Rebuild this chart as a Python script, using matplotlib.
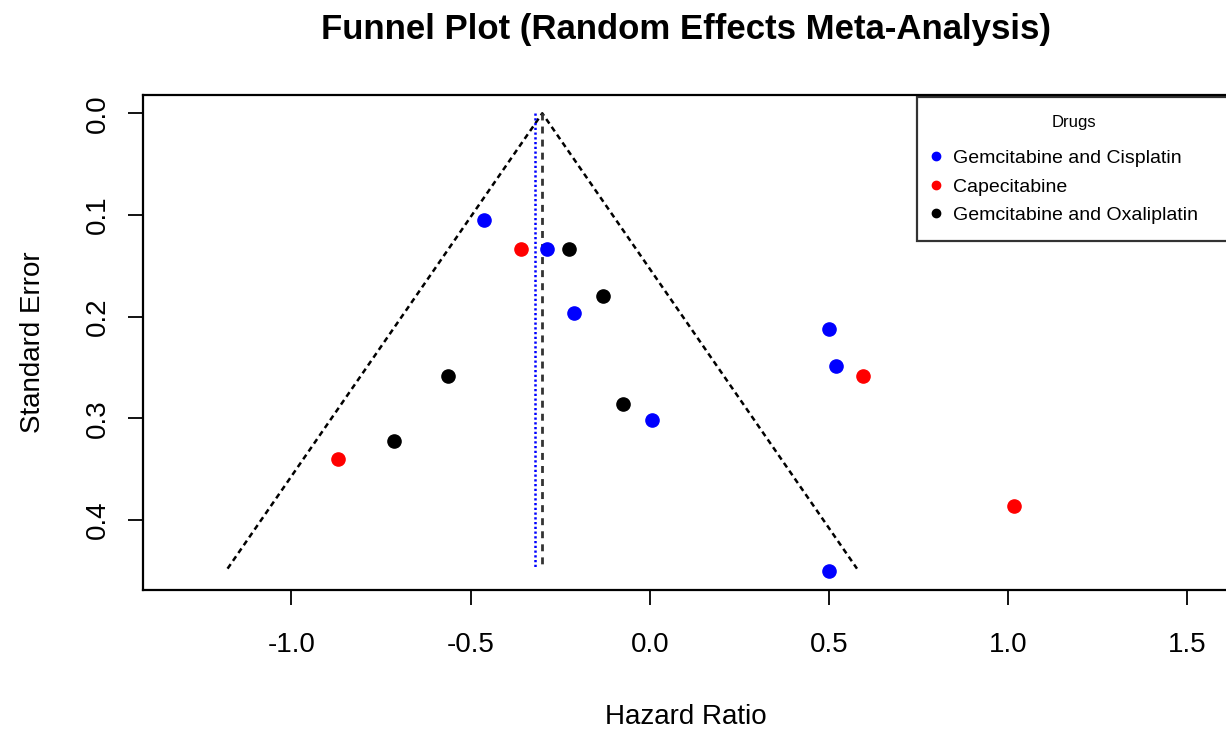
import matplotlib.pyplot as plt
from matplotlib.lines import Line2D

plt.rcParams['font.family'] = ['Liberation Sans', 'DejaVu Sans']
plt.rcParams['axes.unicode_minus'] = False

# log hazard ratio and standard error of each study, by regimen
gc_hr = [-0.462, -0.286, -0.211, 0.005, 0.500, 0.519, 0.500]
gc_se = [0.105, 0.134, 0.196, 0.302, 0.212, 0.249, 0.450]
cap_hr = [-0.358, 0.595, 1.017, -0.869]
cap_se = [0.134, 0.258, 0.386, 0.340]
go_hr = [-0.225, -0.130, -0.563, -0.713, -0.076]
go_se = [0.134, 0.180, 0.258, 0.322, 0.286]

groups = ['Gemcitabine and Cisplatin', 'Capecitabine', 'Gemcitabine and Oxaliplatin']
colors = ['blue', 'red', 'black']

# pooled estimates and funnel depth
re_est = -0.300
fe_est = -0.320
se_max = 0.448

xticks = [-1.0, -0.5, 0.0, 0.5, 1.0, 1.5]
yticks = [0.0, 0.1, 0.2, 0.3, 0.4]

fig = plt.figure(figsize=(12.26, 7.29), dpi=100)
ax = fig.add_axes([143 / 1226, 1 - 590 / 729, (1229 - 143) / 1226, (590 - 95) / 729])

# 95% pseudo confidence funnel
ax.plot([re_est - 1.96 * se_max, re_est, re_est + 1.96 * se_max], [se_max, 0, se_max],
        color='black', lw=1.8, ls=(0, (2.2, 1.6)))
ax.plot([re_est, re_est], [0, se_max], color='#333333', lw=2.0, ls=(0, (2.5, 2.2)))
ax.plot([fe_est, fe_est], [0, se_max], color='blue', lw=1.8, ls=(0, (0.9, 1.0)))

for hr, se, c in zip([gc_hr, cap_hr, go_hr], [gc_se, cap_se, go_se], colors):
    ax.plot(hr, se, 'o', color=c, ms=9.5, mec=c, ls='none')

ax.set_xlim(-1.414, 1.616)
ax.set_ylim(0.469, -0.018)
ax.set_xticks(xticks)
ax.set_xticklabels([f'{t:.1f}' for t in xticks])
ax.set_yticks(yticks)
ax.set_yticklabels([f'{t:.1f}' for t in yticks], rotation=90, va='center')
ax.tick_params(axis='both', labelsize=20, length=11, width=1.3, direction='out')
ax.tick_params(axis='x', pad=19)
ax.tick_params(axis='y', pad=12)
for s in ax.spines.values():
    s.set_linewidth(1.6)

ax.set_xlabel('Hazard Ratio', fontsize=20, labelpad=33)
ax.set_ylabel('Standard Error', fontsize=20, labelpad=28)
ax.set_title('Funnel Plot (Random Effects Meta-Analysis)', fontsize=25,
             fontweight='bold', pad=40)

# legend box runs just off the right edge of the figure
top = 1 - 97 / 729
handles = [Line2D([], [], marker='o', ls='none', color=c, ms=6) for c in colors]
leg = ax.legend(handles, groups, title='Drugs', loc='upper left', mode='expand',
                bbox_to_anchor=(917 / 1226, 0.5, 313 / 1226, top - 0.5),
                bbox_transform=fig.transFigure,
                fontsize=14, title_fontsize=12, frameon=True, fancybox=False,
                borderaxespad=0, handletextpad=0.75, labelspacing=0.55,
                borderpad=0.9, handlelength=0.2)
leg.get_frame().set_edgecolor('black')
leg.get_frame().set_linewidth(1.6)
leg._legend_box.sep = 14.5  # extra room under the title

fig.savefig('out.png', dpi=100)
